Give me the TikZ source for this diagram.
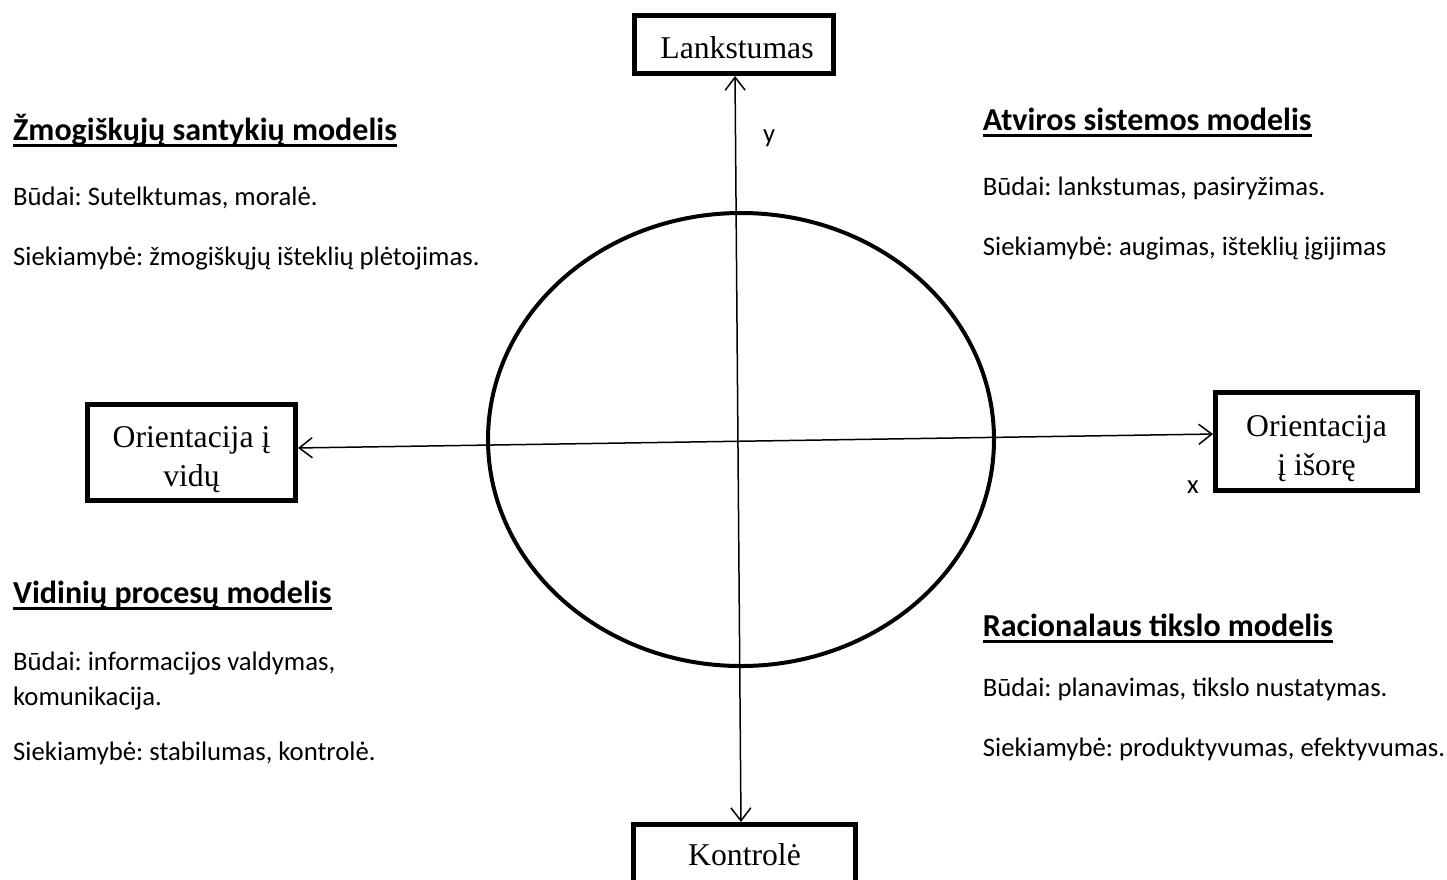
\documentclass[tikz,border=0pt]{standalone}
\usepackage{fontspec}
\setmainfont{Liberation Serif}
\newfontfamily\calfont{Carlito}
\usetikzlibrary{arrows.meta}
\frenchspacing
\begin{document}
\begin{tikzpicture}[x=1pt,y=-1pt,
  box/.style={draw, line width=5pt, inner sep=0pt, outer sep=0pt, anchor=center},
  boxtext/.style={font=\fontsize{31.7}{39}\selectfont, align=center, inner sep=0pt, anchor=base},
  body/.style={font=\calfont\frenchspacing\fontsize{26.7}{32}\selectfont, anchor=base west, inner sep=0pt},
  head/.style={body, font=\calfont\bfseries\fontsize{32}{38}\selectfont},
  axis/.style={line width=1.5pt, shorten >=2.5pt, shorten <=2.5pt,
    {Straight Barb[length=13pt,width=20pt]}-{Straight Barb[length=13pt,width=20pt]}},
  uline/.style={line width=3pt}
]
\useasboundingbox (0,0) rectangle (1447,879);
\clip (0,0) rectangle (1447,879);

% boxes
\node[box, minimum width=199pt, minimum height=58pt] (top) at (734,44.5) {};
\node[box, minimum width=222pt, minimum height=80pt] (bot) at (744.5,864.5) {};
\node[box, minimum width=208pt, minimum height=96pt] (lbox) at (191.5,452.5) {};
\node[box, minimum width=202pt, minimum height=98pt] (rbox) at (1316.5,441.5) {};

\node[boxtext] (ttop) at (737,58) {Lankstumas};
\node[boxtext] (tbot) at (744.5,865) {Kontrolė};
\node[boxtext] (tleft) at (191.5,486) {Orientacija į\\vidų};
\node[boxtext] (tright) at (1316.5,475) {Orientacija\\į išorę};

% ellipse
\draw[line width=4pt] (741,439.5) ellipse [x radius=253, y radius=226.5];

% axes
\draw[axis] ([xshift=1pt]top.south) -- ([xshift=-3.5pt]bot.north);
\draw[axis] ([yshift=4.5pt]lbox.east) -- ([yshift=7.5pt]rbox.west);

\node[body] (xl) at (1187,493) {x};
\node[body] (yl) at (763,142) {y};

% texts
\node[head] (h1) at (13,140) {Žmogiškųjų santykių modelis};
\draw[uline] ([yshift=-5pt]h1.base west) -- ([yshift=-5pt]h1.base east);
\node[body] (a1) at (13,205) {Būdai: Sutelktumas, moralė.};
\node[body] (a2) at (13,265) {Siekiamybė: žmogiškųjų išteklių plėtojimas.};

\node[head] (h2) at (982.7,130) {Atviros sistemos modelis};
\draw[uline] ([yshift=-5pt]h2.base west) -- ([yshift=-5pt]h2.base east);
\node[body] (b1) at (982.7,195) {Būdai: lankstumas, pasiryžimas.};
\node[body] (b2) at (982.7,255) {Siekiamybė: augimas, išteklių įgijimas};

\node[head] (h3) at (13,603) {Vidinių procesų modelis};
\draw[uline] ([yshift=-5pt]h3.base west) -- ([yshift=-5pt]h3.base east);
\node[body] (c1) at (13,670) {Būdai: informacijos valdymas,};
\node[body] (c2) at (13,705) {komunikacija.};
\node[body] (c3) at (13,760) {Siekiamybė: stabilumas, kontrolė.};

\node[head] (h4) at (982.7,636.7) {Racionalaus tikslo modelis};
\draw[uline] ([yshift=-5pt]h4.base west) -- ([yshift=-5pt]h4.base east);
\node[body] (d1) at (982.7,696.7) {Būdai: planavimas, tikslo nustatymas.};
\node[body] (d2) at (982.7,756.7) {Siekiamybė: produktyvumas, efektyvumas.};
\end{tikzpicture}
\end{document}
